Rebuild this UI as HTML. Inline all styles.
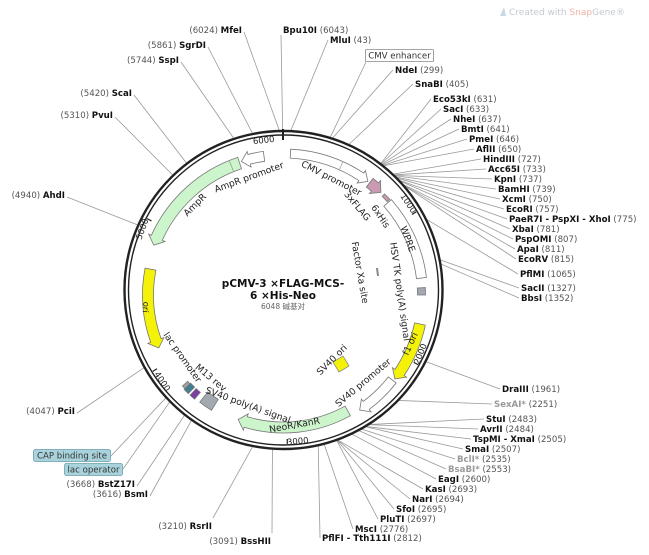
<!DOCTYPE html>
<html><head><meta charset="utf-8"><style>
html,body{margin:0;padding:0;background:#fff;width:649px;height:555px;overflow:hidden}
svg{display:block;font-family:"DejaVu Sans","Liberation Sans","Noto Sans CJK SC",sans-serif}
.n{font-weight:bold;fill:#111;font-size:8.6px}
.p{fill:#555;font-size:8.6px}
.g{fill:#999}
.f{font-size:9.2px;fill:#222}
.t{font-size:8.5px;fill:#222}
</style></head><body>
<svg id="s" width="649" height="555" viewBox="0 0 649 555" xmlns="http://www.w3.org/2000/svg">
<g id="lines" stroke="#999" stroke-width="0.8" fill="none"></g>
<g id="feat"></g>
<circle cx="283.5" cy="290" r="159" fill="none" stroke="#222" stroke-width="2.4"/>
<circle cx="283.5" cy="290" r="155" fill="none" stroke="#222" stroke-width="1.4"/>
<g id="ticks" stroke="#222" stroke-width="1.2"></g>
<line x1="283" y1="129" x2="283" y2="140" stroke="#222" stroke-width="2"/>

<g font-size="9" fill="#c4c9ce">
<path d="M500 16 L504 7 L506 16 Z" fill="#c9d6e3"/>
<text x="509" y="15">Created with <tspan fill="#f2b3a6">Snap</tspan>Gene®</text>
</g>

<text x="283" y="287" text-anchor="middle" font-weight="bold" font-size="10.5" fill="#111">pCMV-3 ×FLAG-MCS-</text>
<text x="283" y="299" text-anchor="middle" font-weight="bold" font-size="10.5" fill="#111">6 ×His-Neo</text>
<text x="283" y="309" text-anchor="middle" font-size="7.5" fill="#666">6048 碱基对</text>

<g class="t">
<text transform="translate(264,143) rotate(-6)" text-anchor="middle">6000</text>
<text transform="translate(406,205) rotate(56)" text-anchor="middle">1000</text>
<text transform="translate(423,355) rotate(-68)" text-anchor="middle">2000</text>
<text transform="translate(298,444) rotate(-5)" text-anchor="middle">3000</text>
<text transform="translate(160,383) rotate(56)" text-anchor="middle">4000</text>
<text transform="translate(145,230) rotate(-70)" text-anchor="middle">5000</text>
</g>

<g class="f">
<text transform="translate(330,181) rotate(27)" text-anchor="middle">CMV promoter</text>
<text transform="translate(250,180) rotate(-20)" text-anchor="middle">AmpR promoter</text>
<text transform="translate(197,207) rotate(-45)" text-anchor="middle">AmpR</text>
<text transform="translate(355,208) rotate(50)" text-anchor="middle">3xFLAG</text>
<text transform="translate(378,218) rotate(56)" text-anchor="middle">6xHis</text>
<text transform="translate(405,240) rotate(70)" text-anchor="middle">WPRE</text>
<text transform="translate(397,292) rotate(82)" text-anchor="middle">HSV TK poly(A) signal</text>
<text transform="translate(357,273) rotate(80)" text-anchor="middle">Factor Xa site</text>
<text transform="translate(413,345) rotate(-65)" text-anchor="middle">f1 ori</text>
<text transform="translate(334,362) rotate(-45)" text-anchor="middle">SV40 ori</text>
<text transform="translate(365,385) rotate(-40)" text-anchor="middle">SV40 promoter</text>
<text transform="translate(295,428) rotate(-10)" text-anchor="middle">NeoR/KanR</text>
<text transform="translate(247,408) rotate(20)" text-anchor="middle">SV40 poly(A) signal</text>
<text transform="translate(209,380) rotate(40)" text-anchor="middle">M13 rev</text>
<text transform="translate(180,359) rotate(55)" text-anchor="middle">lac promoter</text>
<text transform="translate(143,307) rotate(95)" text-anchor="middle" font-size="8.5">ori</text>
</g>

<rect x="365.5" y="49.5" width="68" height="12" fill="#fff" stroke="#888" stroke-width="0.8" rx="1"/>
<text x="399.5" y="58.5" text-anchor="middle" font-size="8.6" fill="#333">CMV enhancer</text>
<rect x="33.5" y="449.5" width="77" height="12" fill="#a9d3dc" stroke="#6a9fab" stroke-width="0.8" rx="2"/>
<text x="72" y="458.5" text-anchor="middle" font-size="8.6" fill="#333">CAP binding site</text>
<rect x="64.5" y="463.5" width="58" height="12" fill="#a9d3dc" stroke="#6a9fab" stroke-width="0.8" rx="2"/>
<text x="93.5" y="472.5" text-anchor="middle" font-size="8.6" fill="#333">lac operator</text>

<g id="labels"></g>
</svg>
<script>
var cx=283.5,cy=295,N=6048,R=159,RCY=290;
function P(a,r){var t=a*Math.PI/180;return [cx+r*Math.sin(t),cy-r*Math.cos(t)];}
function Q(a,r){var t=a*Math.PI/180;return [cx+r*Math.sin(t),RCY-r*Math.cos(t)];}
function f(p){return p[0].toFixed(2)+" "+p[1].toFixed(2);}
var NS="http://www.w3.org/2000/svg";
function el(tag,attrs,parent,txt){var e=document.createElementNS(NS,tag);for(var k in attrs)e.setAttribute(k,attrs[k]);if(txt!=null)e.textContent=txt;document.getElementById(parent).appendChild(e);return e;}
function arrow(a1,a2,ri,ro,fill,head){
  var dir=a2>a1?1:-1, rm=(ri+ro)/2, h=head?(8/rm*180/Math.PI):0;
  var b=a2-dir*h, sw=dir>0?1:0, lg=Math.abs(b-a1)>180?1:0;
  var d="M"+f(P(a1,ro))+" A"+ro+" "+ro+" 0 "+lg+" "+sw+" "+f(P(b,ro));
  if(head){d+=" L"+f(P(b,ro+3))+" L"+f(P(a2,rm))+" L"+f(P(b,ri-3))+" L"+f(P(b,ri));}
  else d+=" L"+f(P(b,ri));
  d+=" A"+ri+" "+ri+" 0 "+lg+" "+(1-sw)+" "+f(P(a1,ri))+" Z";
  el("path",{d:d,fill:fill,stroke:"#777","stroke-width":0.8},"feat");
}
arrow(2.8,36.6,137,146,"#fff",true);
el("line",{x1:P(24,137)[0],y1:P(24,137)[1],x2:P(24,146)[0],y2:P(24,146)[1],stroke:"#999","stroke-width":0.7},"feat");
arrow(37.5,43.5,136,147,"#c99ab0",true);
arrow(45,48,139.5,143,"#c99ab0",false);
arrow(48.5,83,134,144,"#fff",false);
arrow(87,90,134,142,"#a3a9b1",false);
arrow(102,127,134,145,"#f5f20a",true);
arrow(128,146.5,133,143,"#fff",true);
arrow(151,200,127,138,"#ccf5cc",true);
arrow(212,218,123,136,"#a3a9b1",false);
arrow(220.5,223,128,137,"#7d3fa0",false);
arrow(224,226.5,128,137,"#3f7f8f",false);
arrow(226.5,228,129,136,"#a0a0a0",false);
arrow(281,247,130,141,"#f5f20a",true);
arrow(341.6,291,133,145,"#ccf5cc",true);
el("line",{x1:P(338,133)[0],y1:P(338,133)[1],x2:P(338,145)[0],y2:P(338,145)[1],stroke:"#999","stroke-width":0.7},"feat");
arrow(352,342.5,135,145,"#fff",true);
el("path",{d:"M333 362 L343 356 L349 366 L339 372 Z",fill:"#f5f20a",stroke:"#777","stroke-width":0.7},"feat");
el("path",{d:"M376 268 L378 268 L379 276 L377 276 Z",fill:"#888"},"feat");
[1000,2000,3000,4000,5000].forEach(function(v){var a=v/N*360;var p1=Q(a,154),p2=Q(a,149);el("line",{x1:p1[0],y1:p1[1],x2:p2[0],y2:p2[1]},"ticks");});
var right=[["NdeI",299,395,70],["SnaBI",405,415,84],["Eco53kI",631,433,99],["SacI",633,443,109],["NheI",637,453,119],["BmtI",641,461,129],["PmeI",646,469,139],["AflII",650,476,149],["HindIII",727,483,159],["Acc65I",733,488,169],["KpnI",737,494,179],["BamHI",739,498,189],["XcmI",750,502,199],["EcoRI",757,506,209],["PaeR7I - PspXI - XhoI",775,509,219],["XbaI",781,512,229],["PspOMI",807,515,239],["ApaI",811,517,249],["EcoRV",815,518,259],["PflMI",1065,520,274],["SacII",1327,521,288],["BbsI",1352,521,298],["DraIII",1961,502,389],["SexAI*",2251,494,404,1],["StuI",2483,486,419],["AvrII",2484,480,429],["TspMI - XmaI",2505,473,439],["SmaI",2507,465,449],["BclI*",2535,457,459,1],["BsaBI*",2553,448,469,1],["EagI",2600,438,479],["KasI",2693,425,489],["NarI",2694,412,499],["SfoI",2695,396,509],["PluTI",2697,380,519],["MscI",2776,355,529],["PflFI - Tth111I",2812,322,538],["MluI",43,330,40],["Bpu10I",6043,283,30]];
right.forEach(function(d){
  var t=el("text",{x:d[2],y:d[3]+3,"font-size":"8.6"},"labels");
  var a=document.createElementNS(NS,"tspan");a.setAttribute("class","n"+(d[4]?" g":""));a.textContent=d[0];t.appendChild(a);
  var b=document.createElementNS(NS,"tspan");b.setAttribute("class","p");b.textContent="  ("+d[1]+")";b.setAttribute("xml:space","preserve");t.appendChild(b);
  var pt=Q(d[1]/N*360,R);
  el("line",{x1:d[2]-2,y1:d[3]+(d[2]==283?5:0),x2:pt[0],y2:pt[1]},"lines");
});
var left=[["MfeI",6024,242,30],["SgrDI",5861,206,45],["SspI",5744,179,60],["ScaI",5420,132,93],["PvuI",5310,113,115],["AhdI",4940,65,195],["PciI",4047,75,411],["BstZ17I",3668,135,484],["BsmI",3616,148,494],["RsrII",3210,212,526],["BssHII",3091,271,541]];
left.forEach(function(d){
  var t=el("text",{x:d[2],y:d[3]+3,"text-anchor":"end","font-size":"8.6"},"labels");
  var b=document.createElementNS(NS,"tspan");b.setAttribute("class","p");b.textContent="("+d[1]+")  ";b.setAttribute("xml:space","preserve");t.appendChild(b);
  var a=document.createElementNS(NS,"tspan");a.setAttribute("class","n");a.textContent=d[0];t.appendChild(a);
  var pt=Q(d[1]/N*360,R);
  var sx=d[2]+2, sy=d[3]+2;
  if(d[3]>500){sx=d[2]+1;sy=d[3]-8;}
  el("line",{x1:sx,y1:sy,x2:pt[0],y2:pt[1]},"lines");
});
[[111,456,227.5],[123,469,225.5],[366,62,17]].forEach(function(d){var pt=Q(d[2],R);el("line",{x1:d[0],y1:d[1],x2:pt[0],y2:pt[1]},"lines");});
</script>
</body></html>
